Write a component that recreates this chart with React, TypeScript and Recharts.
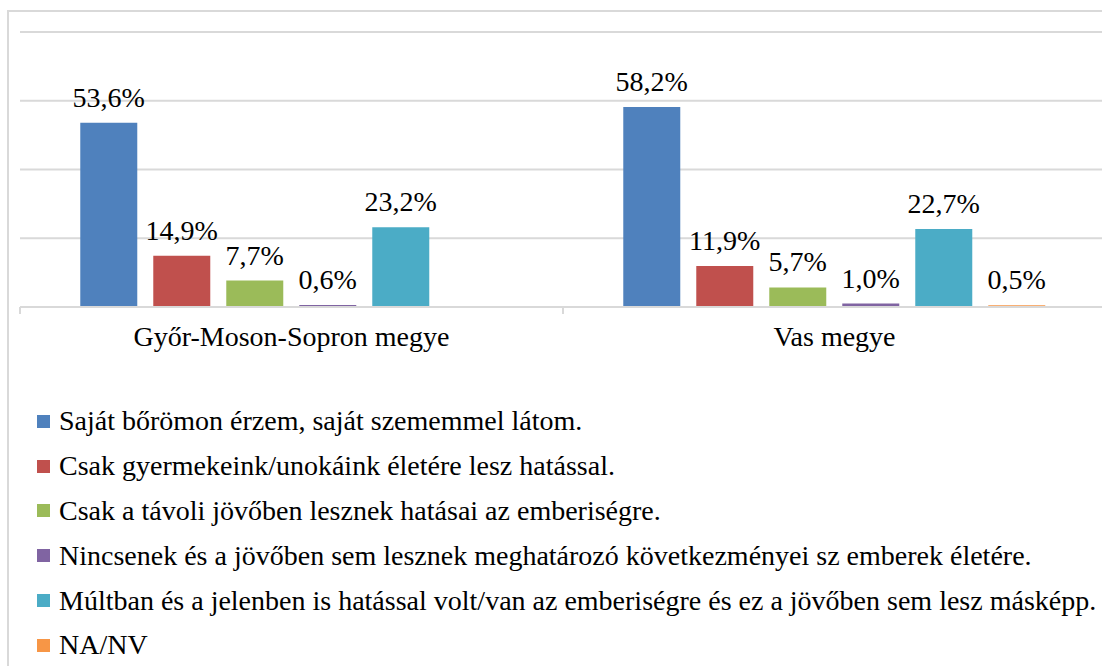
import React from 'react';
import { BarChart, Bar, XAxis, YAxis, CartesianGrid, LabelList } from 'recharts';

// kategóriák (megyék)
const categories = ['Győr-Moson-Sopron megye', 'Vas megye'];

// sorozatok nevei (jelmagyarázat) és színei
const seriesNames = [
  'Saját bőrömon érzem, saját szememmel látom.',
  'Csak gyermekeink/unokáink életére lesz hatással.',
  'Csak a távoli jövőben lesznek hatásai az emberiségre.',
  'Nincsenek és a jövőben sem lesznek meghatározó következményei sz emberek életére.',
  'Múltban és a jelenben is hatással volt/van az emberiségre és ez a jövőben sem lesz másképp.',
  'NA/NV',
];
const seriesColors = ['#4f81bd', '#c0504d', '#9bbb59', '#8064a2', '#4bacc6', '#f79646'];

// értékek (%) megyénként
const sajat = [53.6, 58.2];
const gyermekeink = [14.9, 11.9];
const tavoli = [7.7, 5.7];
const nincsenek = [0.6, 1.0];
const multban = [23.2, 22.7];
const nanv = [0.0, 0.5];

const seriesValues = [sajat, gyermekeink, tavoli, nincsenek, multban, nanv];
const yTicks = [0, 20, 40, 60, 80];

const data = categories.map((name, i) => {
  const row: Record<string, string | number> = { name };
  seriesValues.forEach((vals, s) => {
    row[`s${s}`] = vals[i];
  });
  return row;
});

const FONT = '"Liberation Serif"';
const FS = 28;

function pct(v: unknown) {
  return `${Number(v).toFixed(1).replace('.', ',')}%`;
}

// kategória felirat + osztásjelek a kategóriák határán
function CategoryTick(props: any) {
  const { x, y, payload, index, visibleTicksCount } = props;
  const half = payload?.offset ?? 271.5;
  const axisY = y - 8;
  const last = index === visibleTicksCount - 1;
  return (
    <g>
      <line x1={x - half} x2={x - half} y1={axisY} y2={axisY + 7} stroke="#d9d9d9" strokeWidth={2} />
      {last && (
        <line x1={x + half} x2={x + half} y1={axisY} y2={axisY + 7} stroke="#d9d9d9" strokeWidth={2} />
      )}
      <text x={x} y={axisY + 39} textAnchor="middle" style={{ fontSize: FS, fontFamily: FONT }} fill="#000">
        {payload.value}
      </text>
    </g>
  );
}

export default function App() {
  return (
    <div
      style={{
        position: 'fixed',
        left: 0,
        top: 0,
        width: 1102,
        height: 666,
        overflow: 'hidden',
        background: '#fff',
      }}
    >
      {/* keret (bal és felső él látszik) */}
      <div
        style={{
          position: 'absolute',
          left: 7,
          top: 10,
          width: 1200,
          height: 700,
          borderLeft: '2px solid #d9d9d9',
          borderTop: '2px solid #d9d9d9',
        }}
      />
      <div style={{ position: 'absolute', left: 0, top: 0 }}>
        <BarChart
          width={1110}
          height={360}
          data={data}
          margin={{ top: 32, right: 4, left: 20, bottom: 0 }}
          barCategoryGap="11.1%"
          barGap={16}
        >
          <CartesianGrid vertical={false} stroke="#d9d9d9" strokeWidth={2} />
          <YAxis hide domain={[0, 80]} ticks={yTicks} />
          <XAxis
            dataKey="name"
            height={53}
            axisLine={{ stroke: '#d9d9d9', strokeWidth: 2 }}
            tickLine={false}
            tick={<CategoryTick />}
            interval={0}
          />
          {seriesNames.map((n, s) => (
            <Bar key={n} dataKey={`s${s}`} name={n} fill={seriesColors[s]} isAnimationActive={false}>
              <LabelList
                dataKey={`s${s}`}
                position="top"
                offset={16}
                formatter={pct}
                style={{ fontSize: FS, fontFamily: FONT, fill: '#000' }}
              />
            </Bar>
          ))}
        </BarChart>
      </div>
      {/* jelmagyarázat */}
      <div style={{ position: 'absolute', left: 37, top: 399 }}>
        {seriesNames.map((n, s) => (
          <div
            key={n}
            style={{
              display: 'flex',
              alignItems: 'center',
              height: 44.8,
              fontFamily: FONT,
              fontSize: FS,
              color: '#000',
              whiteSpace: 'nowrap',
            }}
          >
            <span
              style={{
                display: 'inline-block',
                flex: 'none',
                width: 13,
                height: 13,
                background: seriesColors[s],
                marginRight: 9,
              }}
            />
            {n}
          </div>
        ))}
      </div>
    </div>
  );
}
